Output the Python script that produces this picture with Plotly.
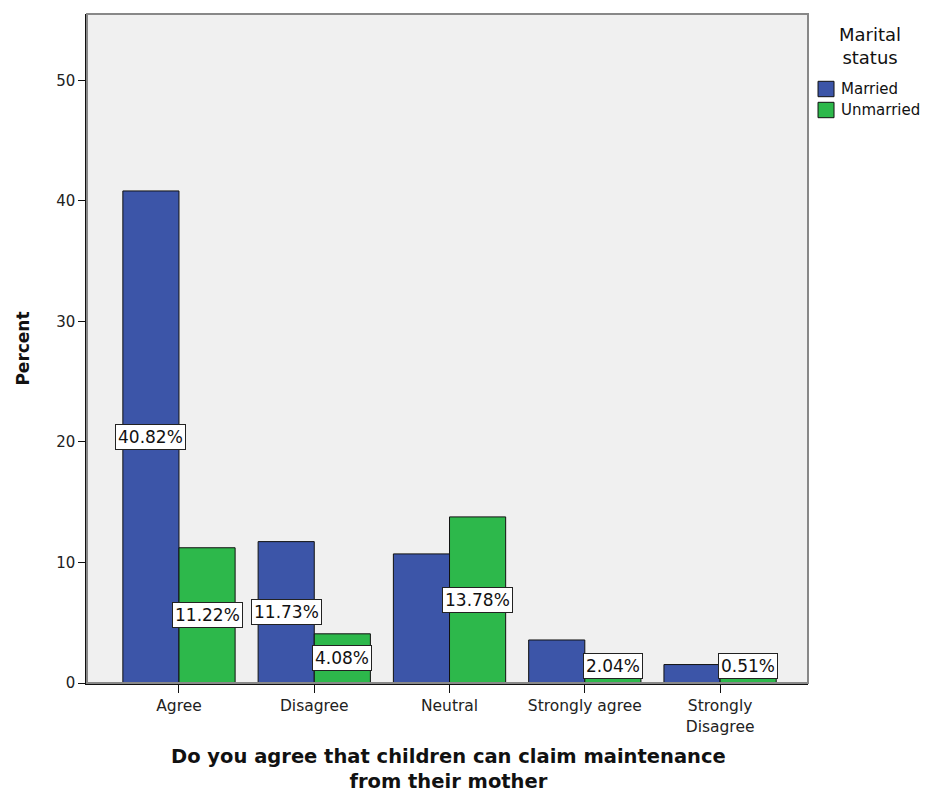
import plotly.graph_objects as go

categories = ["Agree", "Disagree", "Neutral", "Strongly agree", "Strongly<br>Disagree"]
married = [40.82, 11.73, 10.71, 3.57, 1.53]
unmarried = [11.22, 4.08, 13.78, 2.04, 0.51]
married_labels = ["40.82%", "11.73%", None, None, None]
unmarried_labels = ["11.22%", "4.08%", "13.78%", "2.04%", "0.51%"]
series_names = ["Married", "Unmarried"]

FONT = "DejaVu Sans, Verdana, sans-serif"
COLORS = ["#3c55a8", "#2db84b"]

fig = go.Figure()
fig.add_trace(go.Bar(x=categories, y=married, name=series_names[0],
                     marker=dict(color=COLORS[0], line=dict(color="#111", width=1)), offsetgroup="m"))
fig.add_trace(go.Bar(x=categories, y=unmarried, name=series_names[1],
                     marker=dict(color=COLORS[1], line=dict(color="#111", width=1)), offsetgroup="u"))

annotations = []
barw = 0.415
for i, cat in enumerate(categories):
    for vals, labs, shift in ((married, married_labels, -barw / 2), (unmarried, unmarried_labels, barw / 2)):
        lab = labs[i]
        if lab is None:
            continue
        yv = max(vals[i] / 2, 1.4)
        annotations.append(dict(x=i + shift, y=yv, xref="x", yref="y", text=lab, showarrow=False,
                                font=dict(family=FONT, size=17, color="#111"), bgcolor="white",
                                bordercolor="#222", borderwidth=1, borderpad=2))

# legend title
annotations.append(dict(x=1.086, y=0.988, xref="paper", yref="paper", xanchor="center", yanchor="top",
                        text="Marital<br>status", showarrow=False, font=dict(family=FONT, size=18, color="#111")))
# axis titles
annotations.append(dict(x=-0.09, y=0.5, xref="paper", yref="paper", xanchor="center", yanchor="middle",
                        text="<b>Percent</b>", textangle=-90, showarrow=False, font=dict(family=FONT, size=17, color="#111")))
annotations.append(dict(x=0.502, y=-0.089, xref="paper", yref="paper", xanchor="center", yanchor="top",
                        text="<b>Do you agree that children can claim maintenance<br>from their mother</b>", showarrow=False,
                        font=dict(family=FONT, size=19.5, color="#111")))

shapes = [dict(type="rect", xref="paper", yref="paper", x0=0, x1=1, y0=0, y1=1,
               line=dict(color="#888", width=2), layer="above")]
# manual legend
leg_y = [0.8879, 0.8565]
for name, col, yy in zip(series_names, COLORS, leg_y):
    shapes.append(dict(type="rect", xref="paper", yref="paper", x0=1.0139, x1=1.0361,
                       y0=yy - 0.0115, y1=yy + 0.0115, fillcolor=col, line=dict(color="#111", width=1)))
    annotations.append(dict(x=1.0430, y=yy, xref="paper", yref="paper", xanchor="left", yanchor="middle",
                            text=name, showarrow=False, font=dict(family=FONT, size=15, color="#111")))

fig.update_layout(
    width=920, height=786,
    margin=dict(l=79, r=120, t=6, b=111, autoexpand=False),
    paper_bgcolor="white", plot_bgcolor="#f0f0f0",
    barmode="group", bargap=0.17, bargroupgap=0,
    showlegend=False,
    annotations=annotations,
    shapes=shapes,
    font=dict(family=FONT),
)
fig.update_xaxes(range=[-0.68, 4.65], showgrid=False, showline=True, linecolor="#111", linewidth=1.5,
                 ticks="outside", ticklen=8, tickcolor="#111", tickfont=dict(family=FONT, size=15.5, color="#222"), zeroline=False)
fig.update_yaxes(range=[0, 55.5], showgrid=False, showline=True, linecolor="#111", linewidth=1.5,
                 ticks="outside", ticklen=7, tickcolor="#111", tickvals=[0, 10, 20, 30, 40, 50],
                 tickfont=dict(family=FONT, size=15, color="#222"), zeroline=False)

fig.write_html("out.html")
